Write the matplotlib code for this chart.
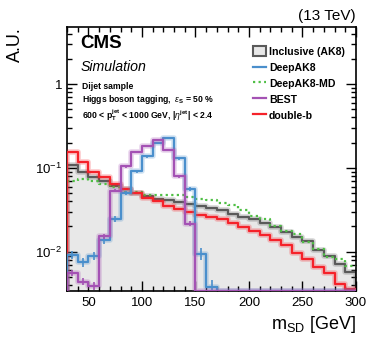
import numpy as np
import matplotlib
matplotlib.use('Agg')
import matplotlib.pyplot as plt
from matplotlib.patches import Patch
from matplotlib.lines import Line2D
from matplotlib.ticker import MultipleLocator, FixedLocator, FuncFormatter

plt.rcParams['font.family'] = ['Liberation Sans', 'DejaVu Sans']
plt.rcParams['mathtext.fontset'] = 'custom'
plt.rcParams['mathtext.rm'] = 'Liberation Sans'
plt.rcParams['mathtext.it'] = 'Liberation Sans:italic'
plt.rcParams['mathtext.bf'] = 'Liberation Sans:bold'

# bin edges in m_SD [GeV], 10 GeV bins
edges = np.arange(30, 301, 10)

# normalised distributions
inclusive = [0.108, 0.090, 0.077, 0.069, 0.061, 0.056, 0.050, 0.046, 0.043, 0.041,
             0.0387, 0.0375, 0.0353, 0.033, 0.0316, 0.0284, 0.026, 0.0245, 0.0223,
             0.0197, 0.0170, 0.0148, 0.0133, 0.0106, 0.0090, 0.0072, 0.0058]
deepak8 = [0.0092, 0.0075, 0.0090, 0.0139, 0.0247, 0.050, 0.091, 0.137, 0.20, 0.225,
           0.130, 0.0557, 0.0095, 0.0038, 0, 0, 0, 0, 0, 0, 0, 0, 0, 0, 0, 0, 0]
deepak8_md = [0.069, 0.073, 0.069, 0.065, 0.060, 0.052, 0.051, 0.048, 0.048, 0.048,
              0.047, 0.045, 0.042, 0.041, 0.038, 0.036, 0.0316, 0.027, 0.0245,
              0.0204, 0.0175, 0.0164, 0.0129, 0.0108, 0.0086, 0.0082, 0.0067]
best = [0.0056, 0.0044, 0.0039, 0.0152, 0.0533, 0.104, 0.153, 0.184, 0.215, 0.164,
        0.079, 0.0215, 0, 0, 0, 0, 0, 0, 0, 0, 0, 0, 0, 0, 0, 0, 0]
doubleb = [0.154, 0.117, 0.090, 0.077, 0.064, 0.056, 0.050, 0.044, 0.0405, 0.0355,
           0.032, 0.0295, 0.0272, 0.026, 0.0245, 0.022, 0.0197, 0.0179, 0.0160,
           0.0139, 0.0121, 0.0096, 0.0082, 0.0066, 0.0055, 0.0041, 0.0036]

# stat. uncertainties (only visible ones)
deepak8_err = [0.0010, 0.0009, 0.0010, 0.0015, 0.0020, 0.003, 0.004, 0.005, 0.006, 0.006,
               0.005, 0.003, 0.0015, 0.0008, 0, 0, 0, 0, 0, 0, 0, 0, 0, 0, 0, 0, 0]
best_err = [0.0005, 0.0004, 0.0004, 0.0012, 0.002, 0.003, 0.004, 0.005, 0.005, 0.004,
            0.003, 0.0015, 0, 0, 0, 0, 0, 0, 0, 0, 0, 0, 0, 0, 0, 0, 0]

c_incl = '#5a5a5a'
c_fill = '#e8e8e8'
c_blue = '#4a8fcc'
c_green = '#4fbf45'
c_purple = '#a452b4'
c_red = '#f5222a'

W, H = 374, 343
fig = plt.figure(figsize=(W / 100, H / 100), dpi=100)
ax = fig.add_axes([67 / W, 1 - 291 / H, (356 - 67) / W, (291 - 27) / H])

centers = 0.5 * (edges[:-1] + edges[1:])
ymin, ymax = 0.0034, 4.8


def outline(vals):
    # ROOT-like histogram outline, zero bins sit on the lower frame
    v = np.clip(np.asarray(vals, dtype=float), ymin, None)
    xs = np.concatenate([[edges[0]], np.repeat(edges, 2)[1:-1], [edges[-1]]])
    ys = np.concatenate([[ymin], np.repeat(v, 2), [ymin]])
    return xs, ys


# inclusive filled
xs, ys = outline(inclusive)
ax.fill_between(xs, ys, ymin, color=c_fill, lw=0, zorder=1)
ax.plot(xs, ys, color=c_incl, lw=4, alpha=0.25, zorder=2)
ax.plot(xs, ys, color=c_incl, lw=1.6, zorder=2)

xs, ys = outline(deepak8_md)
ax.plot(xs[1:-1], ys[1:-1], color=c_green, lw=1.6, ls=(0, (1, 1.5)), zorder=3)

for vals, col, z in [(doubleb, c_red, 4), (deepak8, c_blue, 5), (best, c_purple, 6)]:
    xs, ys = outline(vals)
    ax.plot(xs, ys, color=col, lw=4, alpha=0.25, zorder=z)
    ax.plot(xs, ys, color=col, lw=1.6, zorder=z)

for vals, errs, col, z in [(deepak8, deepak8_err, c_blue, 5), (best, best_err, c_purple, 6)]:
    v = np.asarray(vals)
    e = np.asarray(errs)
    m = v > 0
    ax.errorbar(centers[m], v[m], yerr=e[m], fmt='none', ecolor=col, elinewidth=1.2, zorder=z)

ax.set_yscale('log')
ax.set_xlim(30, 300)
ax.set_ylim(ymin, ymax)

ax.xaxis.set_major_locator(MultipleLocator(50))
ax.xaxis.set_minor_locator(MultipleLocator(10))
ax.yaxis.set_major_locator(FixedLocator([0.01, 0.1, 1]))
minors = [k * 10.0 ** p for p in (-3, -2, -1, 0) for k in range(2, 10)]
ax.yaxis.set_minor_locator(FixedLocator(minors))


def yfmt(v, pos):
    if abs(v - 1) < 1e-9:
        return '1'
    return r'$10^{%d}$' % int(round(np.log10(v)))


ax.yaxis.set_major_formatter(FuncFormatter(yfmt))
ax.yaxis.set_minor_formatter(FuncFormatter(lambda v, p: ''))

ax.tick_params(which='both', direction='in', top=True, right=True, labelsize=9.5, width=1)
ax.tick_params(which='major', length=7)
ax.tick_params(which='minor', length=3.6)
ax.tick_params(axis='x', pad=4)
for s in ax.spines.values():
    s.set_linewidth(1.2)

ax.set_xlabel(r'm$_{\mathregular{SD}}$ [GeV]', fontsize=13, loc='right')
ax.set_ylabel('A.U.', fontsize=13, loc='top', labelpad=8)


# texts
def ftext(x, y, s, **kw):
    fig.text(x / W, 1 - y / H, s, **kw)


ftext(356, 20, '(13 TeV)', fontsize=11, ha='right', va='baseline')
ftext(80, 48, 'CMS', fontsize=13.5, weight='bold', va='baseline')
ftext(81, 71, 'Simulation', fontsize=10.2, style='italic', va='baseline')
ftext(82, 89, 'Dijet sample', fontsize=6.2, weight='bold', va='baseline')
ftext(82, 102, r'Higgs boson tagging,  $\epsilon_{\mathregular{S}}$ = 50 %', fontsize=6.2,
      weight='bold', va='baseline')
ftext(82, 118, r'600 < p$_{\mathregular{T}}^{\mathregular{jet}}$ < 1000 GeV, |$\eta^{\mathregular{jet}}$| < 2.4',
      fontsize=6.2, weight='bold', va='baseline')

handles = [Patch(facecolor=c_fill, edgecolor=c_incl, lw=1.5),
           Line2D([], [], color=c_blue, lw=1.6),
           Line2D([], [], color=c_green, lw=1.6, ls=(0, (1, 1.5))),
           Line2D([], [], color=c_purple, lw=1.6),
           Line2D([], [], color=c_red, lw=1.6)]
labels = ['Inclusive (AK8)', 'DeepAK8', 'DeepAK8-MD', 'BEST', 'double-b']
leg = fig.legend(handles, labels, loc='upper left', bbox_to_anchor=(248 / W, 1 - 41 / H),
                 frameon=False, prop={'size': 7.6, 'weight': 'bold'}, handlelength=1.2,
                 handleheight=1.1, handletextpad=0.3, labelspacing=0.5, borderpad=0)

fig.savefig('out.png', dpi=100)
